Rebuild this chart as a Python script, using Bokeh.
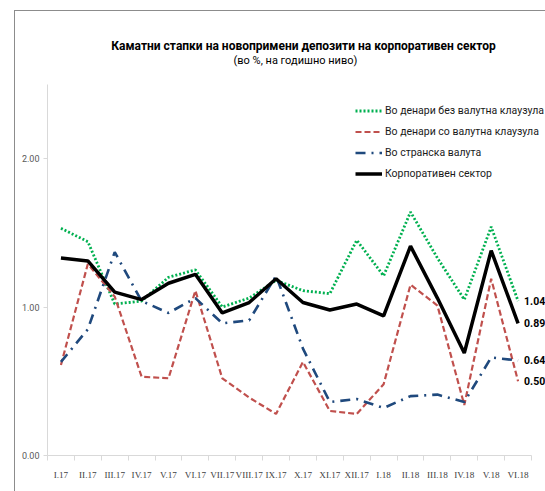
from bokeh.plotting import figure
from bokeh.models import (FixedTicker, Range1d, Legend, LegendItem, Label,
                          NumeralTickFormatter)
from bokeh.embed import file_html
from bokeh.resources import INLINE

categories = ["I.17", "II.17", "III.17", "IV.17", "V.17", "VI.17", "VII.17",
              "VIII.17", "IX.17", "X.17", "XI.17", "XII.17", "I.18", "II.18",
              "III.18", "IV.18", "V.18", "VI.18"]

den_bez = [1.53, 1.44, 1.02, 1.04, 1.20, 1.25, 1.00, 1.06, 1.18, 1.11, 1.09,
           1.45, 1.21, 1.64, 1.33, 1.05, 1.54, 1.04]
den_so = [0.61, 1.29, 1.07, 0.53, 0.52, 1.11, 0.52, 0.39, 0.28, 0.63, 0.30,
          0.28, 0.48, 1.15, 1.01, 0.34, 1.19, 0.50]
stranska = [0.63, 0.85, 1.37, 1.04, 0.96, 1.06, 0.89, 0.91, 1.21, 0.72, 0.36,
            0.38, 0.32, 0.40, 0.41, 0.36, 0.66, 0.64]
korporativen = [1.33, 1.31, 1.10, 1.05, 1.16, 1.22, 0.96, 1.03, 1.19, 1.03,
                0.98, 1.02, 0.94, 1.41, 1.06, 0.69, 1.38, 0.89]

series_names = ["Во денари без валутна клаузула", "Во денари со валутна клаузула",
                "Во странска валута", "Корпоративен сектор"]
y_tick_values = [0, 1, 2]
y_axis_max = 2.5

title_text = "Каматни стапки на новопримени депозити на корпоративен сектор"
subtitle_text = "(во %, на годишно ниво)"

xs = list(range(len(categories)))
N = len(categories)

FONT = "Roboto"

# frame: left 47px, bottom 455px; 26.89 px per category, 148.5 px per unit
W, H = 545, 491
FL, FB = 47, 36
px_x = 26.89
px_y = 148.5
x_end = -0.5 + (W - FL) / px_x
y_end = (H - FB) / px_y

border_css = ("linear-gradient(#8c8c8c, #8c8c8c) 14px 10px / 100% 1px no-repeat, "
              "linear-gradient(#8c8c8c, #8c8c8c) 14px 10px / 1px 100% no-repeat, "
              "#ffffff")

p = figure(width=W, height=H, output_backend="svg", toolbar_location=None,
           x_range=Range1d(-0.5, x_end), y_range=Range1d(0, y_end),
           min_border_left=FL, min_border_right=0, min_border_top=0,
           min_border_bottom=FB, styles={"background": border_css})
p.outline_line_color = None
p.xgrid.visible = False
p.ygrid.visible = False
p.background_fill_alpha = 0
p.border_fill_alpha = 0

# axes
p.xaxis.bounds = (-0.5, N - 0.5)
p.xaxis.ticker = FixedTicker(ticks=xs, minor_ticks=[i - 0.5 for i in range(N + 1)])
p.xaxis.major_label_overrides = {i: c for i, c in enumerate(categories)}
p.xaxis.major_tick_line_color = None
p.xaxis.minor_tick_line_color = "#d9d9d9"
p.xaxis.minor_tick_in = 0
p.xaxis.minor_tick_out = 5
p.xaxis.axis_line_color = "#d9d9d9"
p.xaxis.major_label_text_font = "Liberation Serif"
p.xaxis.major_label_text_font_size = "9.2px"
p.xaxis.major_label_text_color = "#404040"
p.xaxis.major_label_standoff = 8

p.yaxis.bounds = (0, y_axis_max)
p.yaxis.ticker = FixedTicker(ticks=y_tick_values, minor_ticks=[])
p.yaxis.formatter = NumeralTickFormatter(format="0.00")
p.yaxis.axis_line_color = "#d9d9d9"
p.yaxis.major_tick_line_color = "#d9d9d9"
p.yaxis.major_tick_in = 0
p.yaxis.major_tick_out = 4
p.yaxis.minor_tick_line_color = None
p.yaxis.major_label_text_font = FONT
p.yaxis.major_label_text_font_size = "9px"
p.yaxis.major_label_text_color = "#595959"
p.yaxis.major_label_standoff = 4

r_green = p.line(xs, den_bez, line_color="#00b050", line_width=2.8, line_dash="2 2")
r_red = p.line(xs, den_so, line_color="#c0504d", line_width=2.2, line_dash="6 3")
r_blue = p.line(xs, stranska, line_color="#1f497d", line_width=2.6,
                line_dash="10 6 2 6")
r_black = p.line(xs, korporativen, line_color="black", line_width=3.5)

legend = Legend(items=[LegendItem(label=series_names[0], renderers=[r_green]),
                       LegendItem(label=series_names[1], renderers=[r_red]),
                       LegendItem(label=series_names[2], renderers=[r_blue]),
                       LegendItem(label=series_names[3], renderers=[r_black])],
                location=(308, 271), padding=0, margin=0, spacing=0,
                label_height=21, glyph_height=21, glyph_width=27,
                label_standoff=3, border_line_color=None,
                background_fill_color=None, background_fill_alpha=0,
                label_text_font=FONT, label_text_font_size="10.5px",
                label_text_color="#1a1a1a")
p.add_layout(legend, "center")

# end-value labels
for ser in [den_bez, korporativen, stranska, den_so]:
    p.add_layout(Label(x=N - 1, y=ser[-1], text=f"{ser[-1]:.2f}", x_offset=6,
                       text_baseline="middle", text_align="left",
                       text_font=FONT, text_font_size="10.5px",
                       text_font_style="bold", text_color="black"))

# titles (positioned above the plotted area)
p.add_layout(Label(x=9.02, y=2.76, text=title_text, text_align="center",
                   text_baseline="middle", text_font=FONT,
                   text_font_size="12px", text_font_style="bold",
                   text_color="black"))
p.add_layout(Label(x=8.72, y=2.66, text=subtitle_text, text_align="center",
                   text_baseline="middle", text_font=FONT,
                   text_font_size="11px", text_color="black"))

open("out.html", "w").write(file_html(p, INLINE))
